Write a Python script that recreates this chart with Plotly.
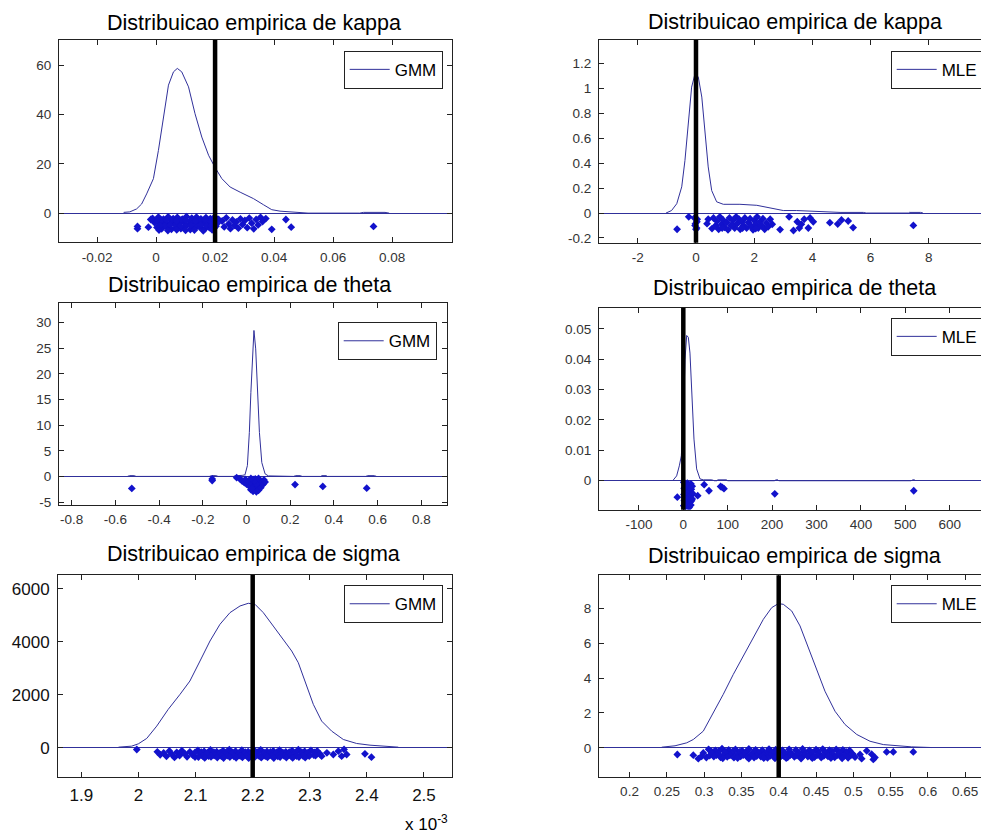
import plotly.graph_objects as go

# ------------------------------------------------------------------ DATA
titles = ["Distribuicao empirica de kappa", "Distribuicao empirica de kappa",
          "Distribuicao empirica de theta", "Distribuicao empirica de theta",
          "Distribuicao empirica de sigma", "Distribuicao empirica de sigma"]
legend_names = ["GMM", "MLE", "GMM", "MLE", "GMM", "MLE"]
true_values = [0.02, 0.0, None, 0.0, 2.2, 0.4]

# panel 1: kappa, GMM
kappa_gmm_curve_x = [-0.0110, -0.0089, -0.0066, -0.0049, -0.0032, -0.0009, 0.0008, 0.0025, 0.0042, 0.0059,
                     0.0072, 0.0087, 0.0110, 0.0132, 0.0155, 0.0178, 0.0200, 0.0223, 0.0251, 0.0285,
                     0.0330, 0.0364, 0.0392, 0.0420, 0.0466, 0.0502, 0.0515, 0.0690, 0.0703, 0.0776, 0.0790]
kappa_gmm_curve_y = [0.3, 0.5, 1.7, 3.7, 7.8, 14.0, 25.5, 39.1, 52.0, 57.4,
                     58.8, 57.4, 51.3, 40.4, 30.9, 23.5, 18.5, 14.0, 10.6, 8.5,
                     5.9, 3.4, 1.4, 0.8, 0.5, 0.3, 0.0, 0.0, 0.3, 0.3, 0.0]
kappa_gmm_pts_x = [-0.0012, 0.0008, 0.0025, 0.0041, 0.0058, 0.0072, 0.0089, 0.0103, 0.0121, 0.0137, 0.0152, 0.0169, 0.0184, 0.0199, 0.0212,
                   -0.0005, 0.0014, 0.0031, 0.0047, 0.0063, 0.0079, 0.0095, 0.0112, 0.0128, 0.0144, 0.0161, 0.0176, 0.0192, 0.0207,
                   0.0003, 0.0019, 0.0036, 0.0052, 0.0068, 0.0084, 0.0099, 0.0116, 0.0132, 0.0148, 0.0165, 0.0181, 0.0196,
                   0.0018, 0.0052, 0.0085, 0.0117, 0.0150, 0.0182, 0.0030, 0.0066, 0.0100, 0.0134, 0.0170, 0.0203,
                   0.0002, 0.0035, 0.0068, 0.0101, 0.0134, 0.0166, 0.0198,
                   0.0013, 0.0048, 0.0083, 0.0117, 0.0152, 0.0187,
                   0.0010, 0.0040, 0.0070, 0.0100, 0.0130, 0.0160, 0.0190,
                   0.0224, 0.0231, 0.0238, 0.0246, 0.0252, 0.0259, 0.0266, 0.0272, 0.0279, 0.0286, 0.0293, 0.0301, 0.0309,
                   0.0316, 0.0324, 0.0331, 0.0339, 0.0346, 0.0354, 0.0361, 0.0372, 0.0392, 0.0440, 0.0458, 0.0737,
                   -0.0063, -0.0063, -0.0026, -0.0018]
kappa_gmm_pts_y = [-2.1, -1.6, -2.4, -1.5, -2.2, -1.7, -2.5, -1.4, -2.0, -1.6, -2.3, -1.8, -2.2, -1.5, -2.6,
                   -3.9, -4.3, -3.6, -4.4, -3.8, -4.2, -3.5, -4.5, -3.7, -4.1, -3.4, -4.6, -3.8, -4.2,
                   -5.8, -6.4, -5.6, -6.6, -5.9, -6.3, -5.5, -6.7, -6.0, -5.7, -6.5, -5.9, -6.2,
                   -2.9, -3.0, -2.8, -3.1, -2.9, -3.0, -5.0, -4.9, -5.1, -4.8, -5.1, -5.3,
                   -3.0, -2.8, -3.2, -2.9, -3.1, -2.7, -3.0,
                   -5.1, -4.9, -5.2, -5.0, -4.8, -5.1,
                   -6.9, -7.1, -6.8, -7.0, -6.9, -7.2, -6.8,
                   -3.2, -5.6, -1.9, -4.4, -6.3, -2.8, -5.0, -3.6, -6.1, -2.3, -4.6, -3.0, -5.9,
                   -2.0, -4.1, -6.4, -2.6, -4.8, -1.7, -3.4, -2.2, -6.6, -2.6, -5.7, -5.4,
                   -6.3, -5.4, -5.7, -2.6]

# panel 2: kappa, MLE
kappa_mle_curve_x = [-1.03, -0.84, -0.66, -0.49, -0.38, -0.26, -0.15, -0.03, 0.08, 0.20, 0.31, 0.42, 0.54, 0.71,
                     0.94, 1.51, 2.09, 2.66, 3.00, 3.46, 4.03, 4.95, 5.75, 5.85, 7.30, 7.33, 7.72, 7.80]
kappa_mle_curve_y = [0.0, 0.02, 0.075, 0.21, 0.42, 0.74, 1.01, 1.12, 1.09, 0.93, 0.64, 0.37, 0.18, 0.09,
                     0.07, 0.07, 0.062, 0.035, 0.02, 0.02, 0.013, 0.005, 0.005, 0.0, 0.0, 0.005, 0.005, 0.0]
kappa_mle_pts_x = [-0.65, -0.25, -0.05, 0.03, -0.03, 0.02, 0.0, 0.04, -0.02,
                   0.38, 0.42, 0.55, 0.60, 0.68, 0.72, 0.78, 0.82, 0.88, 0.93, 0.98, 1.05, 1.10, 1.15, 1.20, 1.27,
                   1.33, 1.38, 1.42, 1.48, 1.52, 1.58, 1.63, 1.68, 1.74, 1.80, 1.86, 1.90, 1.96, 2.00, 2.05, 2.10,
                   2.14, 2.20, 2.25, 2.30, 2.36, 2.42, 2.48, 2.55, 2.62, 1.25, 0.90, 1.60, 2.05,
                   2.89, 3.20, 3.35, 3.48, 3.55, 3.62, 3.72, 3.86, 3.92, 4.03, 4.60, 4.87, 5.00, 5.23, 5.40, 7.47]
kappa_mle_pts_y = [-0.13, -0.03, -0.04, -0.07, -0.10, -0.12, -0.13, -0.05, -0.085,
                   -0.085, -0.05, -0.125, -0.04, -0.10, -0.065, -0.13, -0.03, -0.09, -0.055, -0.115, -0.075, -0.135, -0.04, -0.10, -0.06,
                   -0.12, -0.03, -0.085, -0.05, -0.13, -0.07, -0.10, -0.04, -0.12, -0.075, -0.045, -0.105, -0.135, -0.06, -0.09, -0.03,
                   -0.12, -0.07, -0.10, -0.045, -0.13, -0.08, -0.11, -0.05, -0.09, -0.10, -0.12, -0.12, -0.125,
                   -0.133, -0.03, -0.14, -0.07, -0.12, -0.09, -0.05, -0.12, -0.04, -0.07, -0.077, -0.088, -0.056, -0.064, -0.117, -0.099]

# panel 3: theta, GMM
theta_gmm_curve_x = [-0.545, -0.535, -0.515, -0.505, -0.17, -0.16, -0.14, -0.13, -0.06, -0.05, -0.02, -0.007,
                     0.004, 0.013, 0.020, 0.028, 0.034, 0.042, 0.050, 0.059, 0.070, 0.085, 0.100,
                     0.215, 0.225, 0.245, 0.255, 0.340, 0.345, 0.365, 0.370, 0.545, 0.555, 0.585, 0.595]
theta_gmm_curve_y = [0, 0.15, 0.15, 0, 0, 0.15, 0.15, 0, 0, 0.15, 0.2, 0.3,
                     2.1, 8.6, 16.4, 24.3, 28.5, 24.9, 16.4, 8.6, 2.7, 0.5, 0.1,
                     0, 0.15, 0.15, 0, 0, 0.15, 0.15, 0, 0, 0.15, 0.15, 0]
theta_gmm_pts_x = [-0.525, -0.157, -0.157, -0.045,
                   -0.03, -0.02, -0.01, 0.0, -0.005, 0.01, 0.015, 0.02, 0.025, 0.03, 0.03, 0.035, 0.04, 0.04, 0.045,
                   0.05, 0.05, 0.055, 0.06, 0.06, 0.065, 0.07, 0.075, 0.08, 0.085, 0.045, 0.035, 0.025, 0.055, 0.02,
                   0.222, 0.349, 0.55]
theta_gmm_pts_y = [-2.35, -0.5, -0.8, -0.25,
                   -0.5, -0.9, -1.2, -1.5, -0.6, -1.0, -2.0, -2.6, -1.3, -0.6, -2.9, -1.8, -2.4, -0.5, -3.0,
                   -1.2, -2.0, -2.7, -0.8, -1.6, -2.2, -1.0, -1.6, -0.7, -1.1, -1.5, -0.9, -2.3, -0.4, -0.4,
                   -1.6, -1.95, -2.3]

# panel 4: theta, MLE
theta_mle_curve_x = [-24, -15, -9, -4.5, 0, 3.8, 7.6, 11.3, 15, 19, 24, 30, 37.6, 45, 53, 64, 70,
                     75, 78, 97, 100, 205, 209, 213, 215, 513, 517, 521, 523]
theta_mle_curve_y = [0, 0.0016, 0.0049, 0.0082, 0.02, 0.040, 0.0478, 0.0472, 0.042, 0.029, 0.0137, 0.0039, 0.0006,
                     0.0003, 0.0003, 0.0003, 0, 0, 0.0003, 0.0003, 0, 0, 0.0003, 0.0003, 0, 0, 0.0003, 0.0003, 0]
theta_mle_pts_x = [-13.5,
                   1, 2, 1.5, 2.5, 1, 5, 6, 5.5, 6.5, 5, 9, 10, 9.5, 10.5, 9, 13, 14, 13.5, 14.5, 13,
                   17, 18, 17.5, 18.5, 17, 20, 21, 20,
                   32.4, 47, 57.8, 84, 88, 91.6, 206, 519]
theta_mle_pts_y = [-0.0054,
                   -0.0005, -0.0025, -0.0045, -0.0065, -0.0082, -0.0012, -0.0030, -0.0050, -0.0070, -0.0085,
                   -0.0008, -0.0022, -0.0040, -0.0060, -0.0078, -0.0015, -0.0035, -0.0055, -0.0072, -0.0088,
                   -0.0010, -0.0028, -0.0048, -0.0066, -0.0080, -0.0018, -0.0042, -0.0060,
                   -0.0049, -0.0013, -0.0033, -0.0019, -0.0022, -0.0026, -0.0043, -0.0033]

# panel 5: sigma, GMM (x in units of 10^-3)
sigma_gmm_curve_x = [1.965, 1.988, 1.9997, 2.0144, 2.0319, 2.052, 2.0727, 2.09, 2.1077, 2.1252, 2.1427, 2.1602,
                     2.1778, 2.1923, 2.204, 2.2186, 2.236, 2.2536, 2.2683, 2.2799, 2.2916, 2.3062, 2.3208,
                     2.3383, 2.3587, 2.382, 2.4054, 2.4287, 2.455]
sigma_gmm_curve_y = [26, 64, 151, 355, 819, 1449, 2015, 2517, 3272, 4026, 4656, 5094,
                     5346, 5447, 5409, 5094, 4590, 4089, 3649, 3208, 2517, 1637, 1007,
                     630, 315, 164, 101, 64, 26]
sigma_gmm_pts_x = [1.997,
                   2.033, 2.038, 2.044, 2.049, 2.054, 2.058, 2.063, 2.067, 2.072, 2.076, 2.081, 2.085, 2.090, 2.095, 2.099,
                   2.104, 2.115, 2.126, 2.137, 2.148, 2.159, 2.170, 2.181, 2.192, 2.203, 2.214, 2.225, 2.236, 2.247,
                   2.258, 2.269, 2.280, 2.291, 2.302, 2.313,
                   2.099, 2.110, 2.121, 2.132, 2.143, 2.154, 2.165, 2.176, 2.187, 2.198, 2.209, 2.220, 2.231, 2.242,
                   2.253, 2.264, 2.275, 2.286, 2.297, 2.308,
                   2.109, 2.120, 2.131, 2.142, 2.153, 2.164, 2.175, 2.186, 2.197, 2.208, 2.219, 2.230, 2.241, 2.252,
                   2.263, 2.274, 2.285, 2.296, 2.307, 2.318,
                   2.112, 2.123, 2.134, 2.145, 2.156, 2.167, 2.178, 2.189, 2.200, 2.211, 2.222, 2.233, 2.244, 2.255,
                   2.266, 2.277, 2.288, 2.299, 2.310,
                   2.105, 2.116, 2.127, 2.138, 2.149, 2.160, 2.171, 2.182, 2.193, 2.204, 2.215, 2.226, 2.237, 2.248,
                   2.259, 2.270, 2.281, 2.292,
                   2.3208, 2.330, 2.3412, 2.350, 2.3558, 2.3646, 2.360, 2.3966, 2.408]
sigma_gmm_pts_y = [-62,
                   -150, -260, -190, -320, -120, -240, -360, -170, -290, -110, -220, -340, -150, -270, -350,
                   -95, -130, -80, -145, -110, -70, -125, -90, -140, -100, -75, -135, -115, -85,
                   -150, -105, -70, -130, -95, -120,
                   -175, -160, -185, -165, -180, -155, -170, -190, -160, -175, -165, -185, -155, -170,
                   -180, -160, -175, -165, -185, -170,
                   -240, -205, -270, -225, -255, -210, -280, -235, -200, -260, -230, -275, -215, -250,
                   -220, -265, -240, -205, -270, -230,
                   -300, -315, -290, -310, -295, -320, -305, -290, -315, -300, -310, -295, -320, -305,
                   -290, -310, -300, -315, -295,
                   -350, -380, -335, -365, -385, -345, -375, -360, -390, -340, -370, -355, -385, -345,
                   -365, -380, -350, -370,
                   -313, -189, -251, -126, -313, -251, -60, -226, -352]

# panel 6: sigma, MLE
sigma_mle_curve_x = [0.2432, 0.261, 0.2767, 0.2855, 0.2989, 0.3123, 0.3257, 0.3391, 0.3525, 0.366, 0.3794,
                     0.3906, 0.3995, 0.4062, 0.4174, 0.4286, 0.4397, 0.4509, 0.462, 0.4755, 0.4889,
                     0.5046, 0.5224, 0.5402, 0.5581, 0.5782, 0.6051]
sigma_mle_curve_y = [0.04, 0.12, 0.29, 0.48, 0.96, 2.0, 3.07, 4.21, 5.26, 6.31, 7.37,
                     8.04, 8.27, 8.23, 7.85, 6.99, 5.74, 4.4, 3.25, 2.1, 1.34,
                     0.77, 0.38, 0.19, 0.11, 0.06, 0.02]
sigma_mle_pts_x = [0.2641, 0.2855, 0.2922, 0.2967, 0.2989, 0.303,
                   0.306, 0.315, 0.324, 0.333, 0.342, 0.351, 0.360, 0.369, 0.378, 0.387, 0.396,
                   0.405, 0.414, 0.423, 0.432, 0.441, 0.450, 0.459, 0.468, 0.477, 0.486, 0.495,
                   0.3100, 0.3195, 0.3290, 0.3385, 0.3480, 0.3575, 0.3670, 0.3765, 0.3860, 0.3955,
                   0.4050, 0.4145, 0.4240, 0.4335, 0.4430, 0.4525, 0.4620, 0.4715, 0.4810, 0.4905,
                   0.310, 0.319, 0.328, 0.337, 0.346, 0.355, 0.364, 0.373, 0.382, 0.391, 0.400,
                   0.409, 0.418, 0.427, 0.436, 0.445, 0.454, 0.463, 0.472, 0.481, 0.490, 0.499,
                   0.3075, 0.3165, 0.3255, 0.3345, 0.3435, 0.3525, 0.3615, 0.3705, 0.3795, 0.3885, 0.3975,
                   0.4065, 0.4155, 0.4245, 0.4335, 0.4425, 0.4515, 0.4605, 0.4695, 0.4785, 0.4875, 0.4965,
                   0.313, 0.322, 0.331, 0.340, 0.349, 0.358, 0.367, 0.376, 0.385, 0.394, 0.403,
                   0.412, 0.421, 0.430, 0.439, 0.448, 0.457, 0.466, 0.475, 0.484, 0.493,
                   0.325, 0.345, 0.360, 0.380, 0.395, 0.410, 0.430, 0.445, 0.470, 0.485,
                   0.4979, 0.5023, 0.509, 0.5112, 0.518, 0.5246, 0.5268, 0.529, 0.5447, 0.5536, 0.5804]
sigma_mle_pts_y = [-0.38, -0.42, -0.62, -0.48, -0.29, -0.55,
                   -0.08, -0.14, -0.05, -0.12, -0.09, -0.16, -0.06, -0.11, -0.13, -0.07, -0.10,
                   -0.15, -0.08, -0.12, -0.06, -0.14, -0.10, -0.07, -0.13, -0.09, -0.11, -0.15,
                   -0.21, -0.19, -0.23, -0.20, -0.22, -0.18, -0.21, -0.24, -0.19, -0.22,
                   -0.20, -0.23, -0.18, -0.21, -0.22, -0.19, -0.24, -0.20, -0.21, -0.23,
                   -0.30, -0.34, -0.28, -0.32, -0.36, -0.29, -0.33, -0.31, -0.35, -0.28, -0.32,
                   -0.31, -0.36, -0.29, -0.34, -0.27, -0.33, -0.30, -0.35, -0.29, -0.32, -0.34,
                   -0.44, -0.42, -0.46, -0.43, -0.45, -0.41, -0.44, -0.47, -0.42, -0.45, -0.43,
                   -0.46, -0.41, -0.44, -0.43, -0.45, -0.42, -0.46, -0.44, -0.42, -0.45, -0.43,
                   -0.50, -0.54, -0.51, -0.56, -0.49, -0.53, -0.55, -0.50, -0.57, -0.52, -0.49,
                   -0.54, -0.51, -0.56, -0.50, -0.53, -0.55, -0.49, -0.54, -0.52, -0.57,
                   -0.60, -0.58, -0.61, -0.59, -0.60, -0.58, -0.61, -0.59, -0.58, -0.60,
                   -0.34, -0.53, -0.38, -0.62, -0.17, -0.36, -0.66, -0.55, -0.23, -0.23, -0.23]

# tick values / labels
xtick_vals = [[-0.02, 0, 0.02, 0.04, 0.06, 0.08],
              [-2, 0, 2, 4, 6, 8, 10],
              [-0.8, -0.6, -0.4, -0.2, 0, 0.2, 0.4, 0.6, 0.8],
              [-100, 0, 100, 200, 300, 400, 500, 600],
              [1.9, 2.0, 2.1, 2.2, 2.3, 2.4, 2.5],
              [0.2, 0.25, 0.3, 0.35, 0.4, 0.45, 0.5, 0.55, 0.6, 0.65]]
xtick_text = [["-0.02", "0", "0.02", "0.04", "0.06", "0.08"],
              ["-2", "0", "2", "4", "6", "8", "10"],
              ["-0.8", "-0.6", "-0.4", "-0.2", "0", "0.2", "0.4", "0.6", "0.8"],
              ["-100", "0", "100", "200", "300", "400", "500", "600"],
              ["1.9", "2", "2.1", "2.2", "2.3", "2.4", "2.5"],
              ["0.2", "0.25", "0.3", "0.35", "0.4", "0.45", "0.5", "0.55", "0.6", "0.65"]]
ytick_vals = [[0, 20, 40, 60],
              [-0.2, 0, 0.2, 0.4, 0.6, 0.8, 1.0, 1.2],
              [-5, 0, 5, 10, 15, 20, 25, 30],
              [0, 0.01, 0.02, 0.03, 0.04, 0.05],
              [0, 2000, 4000, 6000],
              [0, 2, 4, 6, 8]]
ytick_text = [["0", "20", "40", "60"],
              ["-0.2", "0", "0.2", "0.4", "0.6", "0.8", "1", "1.2"],
              ["-5", "0", "5", "10", "15", "20", "25", "30"],
              ["0", "0.01", "0.02", "0.03", "0.04", "0.05"],
              ["0", "2000", "4000", "6000"],
              ["0", "2", "4", "6", "8"]]

# ------------------------------------------------------------------ STYLE / LAYOUT
NAVY = "#30309a"
BLUE = "#1212cc"
FONT = "Liberation Sans, Arial, Helvetica, sans-serif"
OFF = 8                      # default body margin of the page
W, H = 989 - OFF, 836 - OFF
KY = 0.9925                  # observed vertical scale of the captured page


def px_x(p):
    return (p - OFF) / W


def px_y(p):
    return 1 - (p / KY - OFF) / H


x_ranges = [[-0.0329, 0.1003], [-3.333, 10.069], [-0.858, 0.916],
            [-189.9, 688.5], [1.859, 2.5496], [0.1591, 0.6819]]
y_ranges = [[-11.9, 70.3], [-0.238, 1.387], [-5.6, 33.9],
            [-0.00956, 0.0569], [-1106, 6517], [-1.68, 9.9]]
# axes boxes in screen pixels (left, right, top, bottom)
dom_px = [(59, 452, 40, 242), (599, 989, 40, 242.3), (59, 446.7, 302.3, 504.3),
          (599, 989, 307.3, 509), (58, 452.3, 574, 776), (599, 989, 574.3, 776)]
title_px = [(254, 22.5), (795, 22), (249, 285), (794, 288), (254, 553), (794.5, 555)]
legend_px = [(442.7, 50.7), (982.7, 50.7), (436.7, 321.7), (982.7, 317.3), (442.7, 584.3), (982.7, 584.3)]

curves = [(kappa_gmm_curve_x, kappa_gmm_curve_y), (kappa_mle_curve_x, kappa_mle_curve_y),
          (theta_gmm_curve_x, theta_gmm_curve_y), (theta_mle_curve_x, theta_mle_curve_y),
          (sigma_gmm_curve_x, sigma_gmm_curve_y), (sigma_mle_curve_x, sigma_mle_curve_y)]
points = [(kappa_gmm_pts_x, kappa_gmm_pts_y), (kappa_mle_pts_x, kappa_mle_pts_y),
          (theta_gmm_pts_x, theta_gmm_pts_y), (theta_mle_pts_x, theta_mle_pts_y),
          (sigma_gmm_pts_x, sigma_gmm_pts_y), (sigma_mle_pts_x, sigma_mle_pts_y)]

fig = go.Figure()
layout = dict(width=W, height=H, margin=dict(l=0, r=0, t=0, b=0),
              paper_bgcolor="white", plot_bgcolor="white", showlegend=True,
              font=dict(family=FONT, color="#222"))
annotations = []
shapes = []

for i in range(6):
    n = i + 1
    sx = "" if n == 1 else str(n)
    xref, yref = "x" + sx, "y" + sx
    leg = "legend" + ("" if n == 1 else str(n))
    big = (n == 5)
    tick_font = dict(family=FONT, size=17 if big else 13.5, color="#111" if big else "#333")
    right_col = (n % 2 == 0)

    l, r, t, b = dom_px[i]
    layout["xaxis" + sx] = dict(domain=[px_x(l), min(1.0, px_x(r))], range=x_ranges[i], anchor=yref,
                                showgrid=False, zeroline=False, showline=True, linecolor="#222",
                                linewidth=1, mirror="ticks", ticks="inside", ticklen=5,
                                tickcolor="#222", tickvals=xtick_vals[i], ticktext=xtick_text[i],
                                tickfont=tick_font, ticklabelstandoff=2 if big else 2)
    layout["yaxis" + sx] = dict(domain=[px_y(b), px_y(t)], range=y_ranges[i], anchor=xref,
                                showgrid=False, zeroline=True, zerolinecolor=NAVY, zerolinewidth=1,
                                showline=True, linecolor="#222", linewidth=1,
                                mirror=False if right_col else "ticks", ticks="inside", ticklen=5,
                                tickcolor="#222", tickvals=ytick_vals[i], ticktext=ytick_text[i],
                                tickfont=tick_font, ticklabelstandoff=4)
    lx, ly = legend_px[i]
    layout[leg] = dict(x=px_x(lx), y=px_y(ly), xanchor="right", yanchor="top",
                       xref="paper", yref="paper", bgcolor="white", bordercolor="#222",
                       borderwidth=1, itemwidth=40,
                       font=dict(family=FONT, size=17, color="black"))

    cx, cy = curves[i]
    fig.add_trace(go.Scatter(x=cx, y=cy, mode="lines", line=dict(color=NAVY, width=1),
                             name=legend_names[i], legend=leg, xaxis=xref, yaxis=yref,
                             showlegend=True))
    px_, py_ = points[i]
    fig.add_trace(go.Scatter(x=px_, y=py_, mode="markers",
                             marker=dict(symbol="diamond", size=6, color=BLUE, line=dict(width=0)),
                             showlegend=False, xaxis=xref, yaxis=yref))
    if true_values[i] is not None:
        shapes.append(dict(type="line", xref=xref, yref=yref + " domain",
                           x0=true_values[i], x1=true_values[i], y0=0, y1=1,
                           line=dict(color="black", width=4.5), layer="above"))
    tx, ty = title_px[i]
    annotations.append(dict(text=titles[i], x=px_x(tx), y=px_y(ty), xref="paper", yref="paper",
                            xanchor="center", yanchor="middle", showarrow=False,
                            font=dict(family=FONT, size=21.5, color="black")))

annotations.append(dict(text="x 10<sup>-3</sup>", x=px_x(450), y=px_y(822), xref="paper", yref="paper",
                        xanchor="right", yanchor="middle", showarrow=False,
                        font=dict(family=FONT, size=17, color="black")))

layout["annotations"] = annotations
layout["shapes"] = shapes
fig.update_layout(**layout)
fig.write_html("out.html", config={"displayModeBar": False})
